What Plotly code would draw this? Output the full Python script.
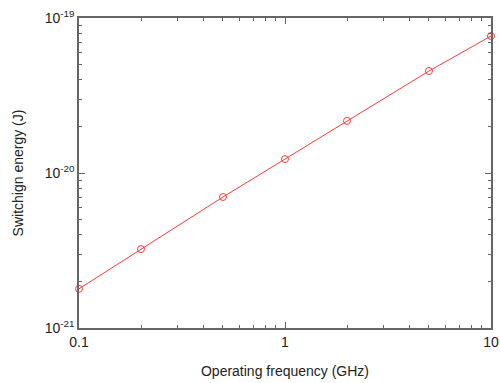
import plotly.graph_objects as go

freq_ghz = [0.1, 0.2, 0.5, 1, 2, 5, 10]
energy_j = [1.79e-21, 3.23e-21, 7.0e-21, 1.23e-20, 2.17e-20, 4.55e-20, 7.65e-20]
x_ticks = [0.1, 1, 10]
x_tick_labels = ["0.1", "1", "10"]
y_ticks = [1e-21, 1e-20, 1e-19]
y_tick_labels = ["10<sup>-21</sup>", "10<sup>-20</sup>", "10<sup>-19</sup>"]
x_minor = [m * 0.1 for m in range(2, 10)] + [m * 1.0 for m in range(2, 10)]
y_minor = [m * 1e-21 for m in range(2, 10)] + [m * 1e-20 for m in range(2, 10)]

fig = go.Figure(go.Scatter(
    x=freq_ghz, y=energy_j, mode="lines+markers", cliponaxis=False,
    line=dict(color="#ff3b3b", width=1),
    marker=dict(symbol="circle-open", size=7, color="#ff3b3b", line=dict(width=1)),
))

axis_common = dict(
    type="log", showline=True, linecolor="#666666", linewidth=1.5, mirror="ticks",
    ticks="inside", ticklen=6, tickcolor="#666666", tickwidth=1,
    showgrid=False, zeroline=False, automargin=False,
    tickfont=dict(family="Liberation Sans, Arial", size=14, color="#222222"),
    title_font=dict(family="Liberation Sans, Arial", size=14, color="#222222"),
)

fig.update_xaxes(**axis_common, range=[-1, 1], tickvals=x_ticks, ticktext=x_tick_labels,
                 minor=dict(ticks="inside", ticklen=3, tickcolor="#666666", tickvals=x_minor, showgrid=False),
                 title_text="Operating frequency (GHz)", title_standoff=18)
fig.update_yaxes(**axis_common, range=[-21, -19], tickvals=y_ticks, ticktext=y_tick_labels,
                 minor=dict(ticks="inside", ticklen=3, tickcolor="#666666", tickvals=y_minor, showgrid=False),
                 title_text="Switchign energy (J)", title_standoff=18)

fig.update_layout(
    width=500, height=383, showlegend=False,
    margin=dict(l=79, r=9, t=18, b=55),
    plot_bgcolor="white", paper_bgcolor="white",
)
fig.write_html("out.html", config={"displayModeBar": False},
               post_script="document.body.style.margin='0';document.body.style.padding='0';")
